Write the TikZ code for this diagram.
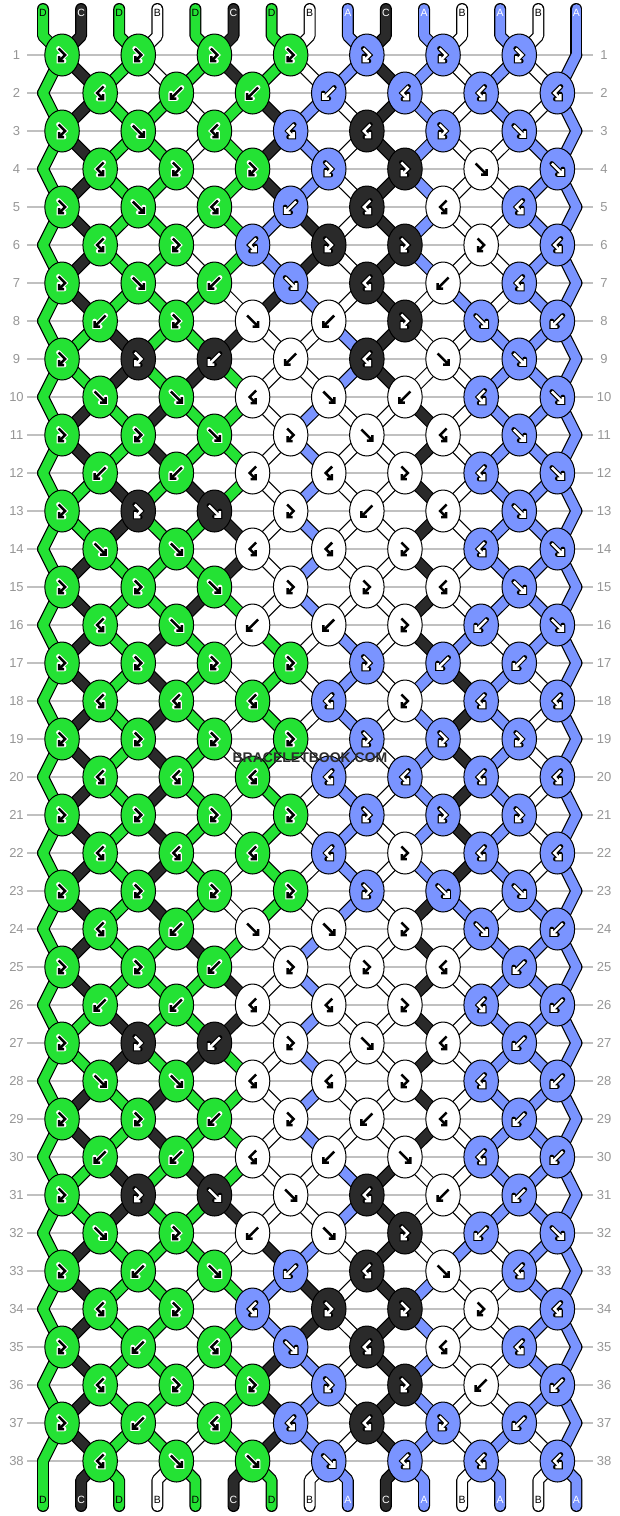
\documentclass[tikz,border=0pt]{standalone}
\usepackage{fontspec}
\setmainfont{Liberation Sans}
\usetikzlibrary{shapes.geometric}

\definecolor{kA}{RGB}{122,148,255}
\definecolor{kB}{RGB}{255,255,255}
\definecolor{kC}{RGB}{42,42,42}
\definecolor{kD}{RGB}{36,226,52}
\colorlet{inkA}{white}\colorlet{haloA}{black}
\colorlet{inkB}{black}\colorlet{haloB}{white}
\colorlet{inkC}{white}\colorlet{haloC}{black}
\colorlet{inkD}{black}\colorlet{haloD}{white}
\definecolor{rowline}{RGB}{192,192,192}
\definecolor{rownum}{RGB}{150,150,150}
\definecolor{brand}{RGB}{45,45,45}

\newcommand\knotrows{LLLLLLL,RBBBRRR,LFRRRLF,RLLLLFF,LFRBRRR,RLRLLLR,LFBFRBR,BLFBLFB,LLBBRFF,FFRFBRF,LLFLFRF,BBRRLRF,LLFLBRF,FFRRLRF,LLFLLRF,RFBBLBF,LLLLLBB,RRRRLRR,LLLLLLL,RRRRRRR,LLLLLLL,RRRRLRR,LLLLLFF,RBFFLFB,LLBLLRB,BBRRLRB,LLBLFRB,FFRRLRB,LLBLBRB,BBRBFRB,LLFFRBB,FLBFLBF,LBFBRFR,RLRLLLR,LBRFRRR,RLLLLBB,LBRRRLB,RFFFRRR}
\newcommand\strcol[2]{\csname str#1-#2\endcsname}
\newcommand\setstr[3]{\expandafter\xdef\csname str#1-#2\endcsname{#3}}
\newcommand\tieknot[2]{%
	\edef\pl{\the\numexpr2*#1-1+\off\relax}%
	\edef\pR{\the\numexpr\pl+1\relax}%
	\edef\cL{\strcol{\prev}{\pl}}%
	\edef\cR{\strcol{\prev}{\pR}}%
	\ifx#2F\setstr{\rw}{\pl}{\cR}\setstr{\rw}{\pR}{\cL}\let\kc\cL\fi
	\ifx#2B\setstr{\rw}{\pl}{\cR}\setstr{\rw}{\pR}{\cL}\let\kc\cR\fi
	\ifx#2L\let\kc\cL\fi
	\ifx#2R\let\kc\cR\fi
	\expandafter\xdef\csname kcol\rw-#1\endcsname{\kc}%
	\expandafter\xdef\csname kind\rw-#1\endcsname{#2}%
}
\newcommand\tierow[7]{\tieknot1{#1}\tieknot2{#2}\tieknot3{#3}\tieknot4{#4}\tieknot5{#5}\tieknot6{#6}\tieknot7{#7}}
\foreach \scol [count=\p] in {D,C,D,B,D,C,D,B,A,C,A,B,A,B,A}{\setstr{0}{\p}{\scol}}
\foreach \kinds [count=\rw] in \knotrows {%
	\pgfmathtruncatemacro\prev{\rw-1}%
	\pgfmathtruncatemacro\off{1-mod(\rw,2)}%
	\foreach \p in {1,...,15}{\setstr{\rw}{\p}{\strcol{\prev}{\p}}}%
	\expandafter\tierow\kinds}

\newcommand\drawglyph[1]{\draw[glyph halo] #1; \draw[glyph ink] #1;}
\newcommand\knotglyph[1]{%
	\ifx#1F\drawglyph{(-5.5,-5.5) -- (5.5,5.5) (0,5.5) -- (5.5,5.5) -- (5.5,0)}\fi
	\ifx#1B\drawglyph{(5.5,-5.5) -- (-5.5,5.5) (0,5.5) -- (-5.5,5.5) -- (-5.5,0)}\fi
	\ifx#1L\drawglyph{(-3.5,-6.5) -- (3,0) -- (-3,6) (2,6) -- (-3,6) -- (-3,1)}\fi
	\ifx#1R\drawglyph{(3.5,-6.5) -- (-3,0) -- (3,6) (-2,6) -- (3,6) -- (3,1)}\fi}

\tikzset{
	knot/.style={ellipse, draw=black, line width=1pt, minimum width=34.5pt, minimum height=42pt, inner sep=0pt},
	glyph halo/.style={draw=halo\kc, line width=4.8pt, line join=miter, line cap=round},
	glyph ink/.style={draw=ink\kc, line width=2.5pt, line join=miter},
	pics/glyph/.style={code={\expandafter\knotglyph\kd}},
	rownr/.style={text=rownum, font=\fontsize{13}{15}\selectfont, inner sep=0pt},
	rowrule/.style={draw=rowline, line width=1.3pt, shorten <=10.5pt, shorten >=11pt},
	endtag/.style={font=\fontsize{10.5}{12}\selectfont, inner sep=0pt},
	strand/.style={line cap=round, line join=round},
}

\begin{document}
\begin{tikzpicture}[x=1pt, y=-1pt]
	\useasboundingbox (0,0) rectangle (620,1516);
	\fill[white] (0,0) rectangle (620,1516);
	\foreach \rw in {1,...,38}{
		\node[rownr] (nl\rw) at (16.5,17+38*\rw) {\rw};
		\node[rownr] (nr\rw) at (604,17+38*\rw) {\rw};
		\draw[rowrule] (nl\rw.center) -- (nr\rw.center);
	}
	\foreach \rw in {1,...,38}{
		\pgfmathtruncatemacro\off{1-mod(\rw,2)}
		\foreach \p in {1,...,15}{
			\pgfmathtruncatemacro\kn{floor((\p+1-\off)/2)}
			\pgfmathsetmacro\xx{(\kn==0 || \kn==8) ? 43+38.1*(\p-1) : 62.05+38.1*(2*\kn-2+\off)}
			\coordinate (q\rw-\p) at (\xx,17+38*\rw);
		}
	}
	\foreach \p in {1,...,15}{
		\coordinate (top\p) at (4.9+38.1*\p,9);
		\coordinate (tb\p) at (4.9+38.1*\p,36);
		\coordinate (bt\p) at (4.9+38.1*\p,1480);
		\coordinate (bot\p) at (4.9+38.1*\p,1506);
	}
	\foreach \lw/\rim in {12/1,9.6/0}{
		\foreach \p in {1,...,15}{
			\edef\scol{\ifnum\rim=1 black\else k\strcol{0}{\p}\fi}
			\draw[strand, line width=\lw pt, draw=\scol] (top\p) -- (tb\p) -- (q1-\p);
			\foreach \rw [evaluate=\rw as \nx using int(\rw+1)] in {1,...,37}{
				\edef\scol{\ifnum\rim=1 black\else k\strcol{\rw}{\p}\fi}
				\draw[strand, line width=\lw pt, draw=\scol] (q\rw-\p) -- (q\nx-\p);
			}
			\edef\scol{\ifnum\rim=1 black\else k\strcol{38}{\p}\fi}
			\draw[strand, line width=\lw pt, draw=\scol] (q38-\p) -- (bt\p) -- (bot\p);
		}
	}
	\foreach \rw in {1,...,38}{
		\pgfmathtruncatemacro\off{1-mod(\rw,2)}
		\foreach \kn in {1,...,7}{
			\pgfmathtruncatemacro\pl{2*\kn-1+\off}
			\edef\kc{\csname kcol\rw-\kn\endcsname}
			\edef\kd{\csname kind\rw-\kn\endcsname}
			\node[knot, fill=k\kc] (n\rw-\kn) at (q\rw-\pl) {};
			\pic at (n\rw-\kn) {glyph};
		}
	}
	\foreach \p in {1,...,15}{
		\edef\kc{\strcol{0}{\p}}
		\node[endtag, text=ink\kc] (lt\p) at (4.9+38.1*\p,13) {\kc};
		\edef\kc{\strcol{38}{\p}}
		\node[endtag, text=ink\kc] (lb\p) at (4.9+38.1*\p,1500) {\kc};
	}
	\node[text=brand, font=\bfseries\fontsize{14}{16}\selectfont, inner sep=0pt] (brandmark) at (310,758) {BRACELETBOOK.COM};
\end{tikzpicture}
\end{document}
